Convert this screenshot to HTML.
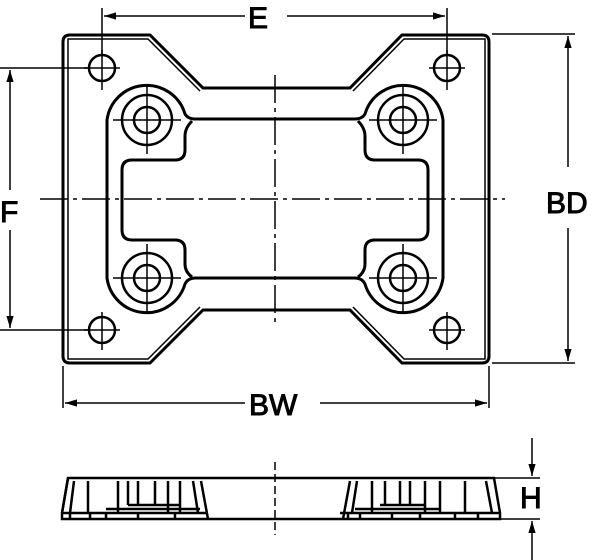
<!DOCTYPE html>
<html><head><style>body{margin:0;background:#fff}svg{display:block}text{font-family:"Liberation Sans",sans-serif;font-weight:normal;fill:#000}</style></head>
<body>
<svg width="600" height="560" viewBox="0 0 600 560" xmlns="http://www.w3.org/2000/svg">
<defs>
<marker id="a" viewBox="0 0 10 10" refX="10" refY="5" markerWidth="8" markerHeight="8" orient="auto-start-reverse"><path d="M0,2 L10,5 L0,8 Z" fill="#000"/></marker>
</defs>
<g fill="none" stroke="#000">
<!-- outer plate -->
<path d="M70,35 L150,35 L203,88 L350,88 L402,35 L482,35 Q489,35 489,42 L489,356 Q489,363 482,363 L402,363 L350,310 L203,310 L150,363 L70,363 Q63,363 63,356 L63,42 Q63,35 70,35 Z" stroke-width="3"/>
<path d="M200,91 L148,39 L68,39 L68,359 L148,359 L200,307 M353,91 L404,39 L485,39 L485,359 L404,359 L353,307" stroke-width="1.5"/>
<!-- frame -->
<path d="M195,119 L355,119 Q362,119 365,114 A40 40 0 0 1 443,120 L443,278 A40 40 0 0 1 365,284 Q362,278 355,278 L195,278 Q188,278 185,284 A40 40 0 0 1 107,278 L107,120 A40 40 0 0 1 185,114 Q188,119 195,119 Z" stroke-width="3"/>
<path d="M192,121 Q185,128 185,136 L185,150 Q185,160 175,160 L132,160 Q122,160 122,170 L122,230 Q122,240 132,240 L175,240 Q185,240 185,250 L185,264 Q185,272 192,277 M358,121 Q365,128 365,136 L365,150 Q365,160 375,160 L418,160 Q428,160 428,170 L428,230 Q428,240 418,240 L375,240 Q365,240 365,250 L365,264 Q365,272 358,277" stroke-width="3"/>
<!-- holes -->
<g stroke-width="2.5">
<circle cx="147" cy="120" r="25"/><circle cx="147" cy="120" r="13"/>
<circle cx="403" cy="120" r="25"/><circle cx="403" cy="120" r="13"/>
<circle cx="147" cy="278" r="25"/><circle cx="147" cy="278" r="13"/>
<circle cx="403" cy="278" r="25"/><circle cx="403" cy="278" r="13"/>
<circle cx="102" cy="68" r="13"/><circle cx="447" cy="68" r="13"/>
<circle cx="102" cy="330" r="13"/><circle cx="447" cy="330" r="13"/>
</g>
<g stroke-width="1.5">
<path d="M147,86 V154 M113,120 H181 M403,86 V154 M369,120 H437 M147,244 V312 M113,278 H181 M403,244 V312 M369,278 H437"/>
<path d="M102,50 V90 M84,68 H120 M447,50 V90 M429,68 H465 M102,312 V350 M84,330 H120 M447,312 V350 M429,330 H465"/>
<!-- center lines -->
<path d="M40,199 H505" stroke-dasharray="28,5,4,5"/>
<path d="M275,75 V325" stroke-dasharray="28,5,4,5"/>
<!-- dims -->
<path d="M102,8 V55 M447,8 V55"/>
<path d="M0,68 H90 M0,330 H90"/>
<path d="M492,34 H575 M492,363 H575"/>
<path d="M63,366 V408 M489,366 V408"/>
<path d="M245,16 H104" marker-end="url(#a)"/>
<path d="M287,16 H445" marker-end="url(#a)"/>
<path d="M10,190 V70" marker-end="url(#a)"/>
<path d="M10,230 V328" marker-end="url(#a)"/>
<path d="M568,167 V36" marker-end="url(#a)"/>
<path d="M568,228 V361" marker-end="url(#a)"/>
<path d="M245,403 H65" marker-end="url(#a)"/>
<path d="M320,403 H487" marker-end="url(#a)"/>
<!-- side view -->
<path d="M275,462 V535" stroke-dasharray="8,4"/>
<path d="M492,478 H540 M492,519 H540"/>
<path d="M532,438 V476" marker-end="url(#a)"/>
<path d="M532,560 V521" marker-end="url(#a)"/>
</g>
<g stroke-width="2.5">
<path d="M68,478 H494 L500,513 V519 H62 V513 Z"/>
<path d="M62,513 H206 M340,513 H500"/>
<path d="M68,478 L62,513 M74,481 L70,513 M201,481 L208,519 M193,481 L198,513 M350,481 L343,519 M357,481 L352,513 M486,481 L492,513"/>
<path d="M88,481 V513 M118,481 V513 M128,481 V505 M138,481 V505 M155,481 V505 M168,481 V513 M180,481 V513 M128,505 H180 M106,509 H200"/>
<path d="M372,481 V513 M385,481 V505 M400,481 V505 M410,481 V505 M425,481 V513 M440,481 V513 M465,481 V513 M380,505 H425 M355,509 H440"/>
<path d="M70,513 V519 M90,513 V519 M106,513 V519 M138,513 V519 M175,513 V519 M348,513 V519 M360,513 V519 M392,513 V519 M420,513 V519 M455,513 V519 M478,513 V519"/>
</g>
<g font-size="30">
<text x="248" y="28">E</text>
<text x="0" y="222">F</text>
<text x="546" y="213">BD</text>
<text x="249" y="415">BW</text>
<text x="520" y="508">H</text>
</g>
</svg>
</body></html>
